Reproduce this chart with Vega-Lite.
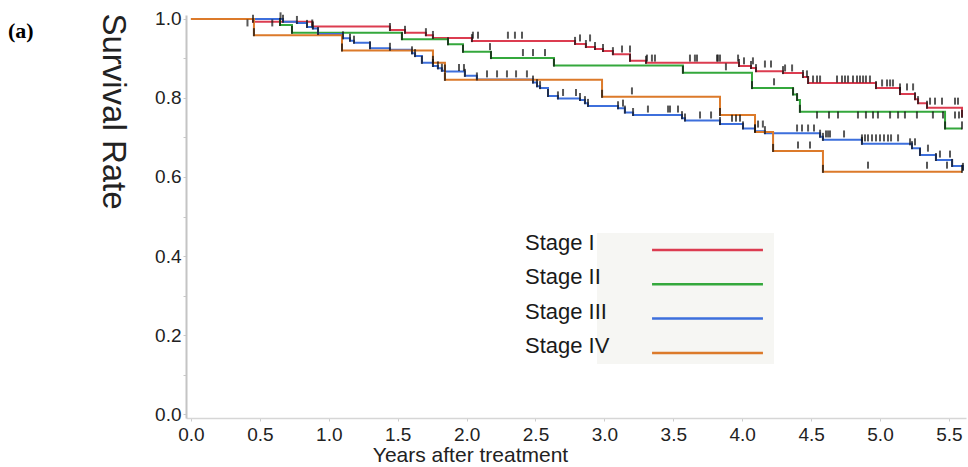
{
  "$schema": "https://vega.github.io/schema/vega-lite/v6.json",
  "width": 780,
  "height": 403,
  "autosize": {"type": "none"},
  "padding": {"left": 186, "top": 15, "right": 2, "bottom": 49},
  "background": "white",
  "title": {"text": "(a)", "anchor": "start", "frame": "group", "font": "Liberation Serif", "fontWeight": "bold", "fontSize": 22, "color": "#000000", "dx": -178, "dy": 50, "offset": 0, "baseline": "alphabetic"},
  "config": {"view": {"stroke": null}, "font": "Liberation Sans"},
  "datasets": {
    "curves": [
      {"stage": "Stage I", "t": 0, "s": 1},
      {"stage": "Stage I", "t": 0.45, "s": 0.993},
      {"stage": "Stage I", "t": 0.88, "s": 0.981},
      {"stage": "Stage I", "t": 1.444, "s": 0.972},
      {"stage": "Stage I", "t": 1.553, "s": 0.965},
      {"stage": "Stage I", "t": 1.705, "s": 0.959},
      {"stage": "Stage I", "t": 1.756, "s": 0.952},
      {"stage": "Stage I", "t": 2.039, "s": 0.944},
      {"stage": "Stage I", "t": 2.787, "s": 0.937},
      {"stage": "Stage I", "t": 2.866, "s": 0.929},
      {"stage": "Stage I", "t": 2.932, "s": 0.924},
      {"stage": "Stage I", "t": 2.99, "s": 0.919},
      {"stage": "Stage I", "t": 3.062, "s": 0.911},
      {"stage": "Stage I", "t": 3.186, "s": 0.894},
      {"stage": "Stage I", "t": 3.302, "s": 0.889},
      {"stage": "Stage I", "t": 3.977, "s": 0.881},
      {"stage": "Stage I", "t": 4.064, "s": 0.876},
      {"stage": "Stage I", "t": 4.1, "s": 0.868},
      {"stage": "Stage I", "t": 4.296, "s": 0.863},
      {"stage": "Stage I", "t": 4.441, "s": 0.853},
      {"stage": "Stage I", "t": 4.478, "s": 0.838},
      {"stage": "Stage I", "t": 4.971, "s": 0.825},
      {"stage": "Stage I", "t": 5.145, "s": 0.81},
      {"stage": "Stage I", "t": 5.254, "s": 0.797},
      {"stage": "Stage I", "t": 5.276, "s": 0.787},
      {"stage": "Stage I", "t": 5.341, "s": 0.775},
      {"stage": "Stage I", "t": 5.595, "s": 0.752},
      {"stage": "Stage II", "t": 0, "s": 1},
      {"stage": "Stage II", "t": 0.646, "s": 0.985},
      {"stage": "Stage II", "t": 0.733, "s": 0.965},
      {"stage": "Stage II", "t": 1.531, "s": 0.949},
      {"stage": "Stage II", "t": 1.865, "s": 0.936},
      {"stage": "Stage II", "t": 1.974, "s": 0.917},
      {"stage": "Stage II", "t": 2.177, "s": 0.901},
      {"stage": "Stage II", "t": 2.634, "s": 0.882},
      {"stage": "Stage II", "t": 3.57, "s": 0.864},
      {"stage": "Stage II", "t": 4.071, "s": 0.825},
      {"stage": "Stage II", "t": 4.369, "s": 0.809},
      {"stage": "Stage II", "t": 4.398, "s": 0.795},
      {"stage": "Stage II", "t": 4.419, "s": 0.765},
      {"stage": "Stage II", "t": 5.472, "s": 0.723},
      {"stage": "Stage II", "t": 5.595, "s": 0.723},
      {"stage": "Stage III", "t": 0, "s": 1},
      {"stage": "Stage III", "t": 0.668, "s": 0.993},
      {"stage": "Stage III", "t": 0.769, "s": 0.99},
      {"stage": "Stage III", "t": 0.842, "s": 0.98},
      {"stage": "Stage III", "t": 0.885, "s": 0.976},
      {"stage": "Stage III", "t": 0.922, "s": 0.962},
      {"stage": "Stage III", "t": 1.103, "s": 0.951},
      {"stage": "Stage III", "t": 1.154, "s": 0.945},
      {"stage": "Stage III", "t": 1.183, "s": 0.94},
      {"stage": "Stage III", "t": 1.299, "s": 0.926},
      {"stage": "Stage III", "t": 1.444, "s": 0.922},
      {"stage": "Stage III", "t": 1.604, "s": 0.913},
      {"stage": "Stage III", "t": 1.626, "s": 0.906},
      {"stage": "Stage III", "t": 1.676, "s": 0.889},
      {"stage": "Stage III", "t": 1.756, "s": 0.881},
      {"stage": "Stage III", "t": 1.792, "s": 0.875},
      {"stage": "Stage III", "t": 1.821, "s": 0.869},
      {"stage": "Stage III", "t": 1.843, "s": 0.867},
      {"stage": "Stage III", "t": 1.988, "s": 0.856},
      {"stage": "Stage III", "t": 2.075, "s": 0.847},
      {"stage": "Stage III", "t": 2.482, "s": 0.839},
      {"stage": "Stage III", "t": 2.511, "s": 0.83},
      {"stage": "Stage III", "t": 2.533, "s": 0.825},
      {"stage": "Stage III", "t": 2.591, "s": 0.805},
      {"stage": "Stage III", "t": 2.663, "s": 0.799},
      {"stage": "Stage III", "t": 2.823, "s": 0.795},
      {"stage": "Stage III", "t": 2.859, "s": 0.787},
      {"stage": "Stage III", "t": 2.881, "s": 0.78},
      {"stage": "Stage III", "t": 3.099, "s": 0.774},
      {"stage": "Stage III", "t": 3.149, "s": 0.763},
      {"stage": "Stage III", "t": 3.208, "s": 0.757},
      {"stage": "Stage III", "t": 3.563, "s": 0.749},
      {"stage": "Stage III", "t": 3.585, "s": 0.743},
      {"stage": "Stage III", "t": 3.839, "s": 0.734},
      {"stage": "Stage III", "t": 4.006, "s": 0.723},
      {"stage": "Stage III", "t": 4.093, "s": 0.716},
      {"stage": "Stage III", "t": 4.165, "s": 0.711},
      {"stage": "Stage III", "t": 4.565, "s": 0.702},
      {"stage": "Stage III", "t": 4.586, "s": 0.694},
      {"stage": "Stage III", "t": 4.869, "s": 0.684},
      {"stage": "Stage III", "t": 5.232, "s": 0.673},
      {"stage": "Stage III", "t": 5.29, "s": 0.656},
      {"stage": "Stage III", "t": 5.406, "s": 0.643},
      {"stage": "Stage III", "t": 5.523, "s": 0.628},
      {"stage": "Stage III", "t": 5.602, "s": 0.618},
      {"stage": "Stage IV", "t": 0, "s": 1},
      {"stage": "Stage IV", "t": 0.457, "s": 0.959},
      {"stage": "Stage IV", "t": 1.096, "s": 0.92},
      {"stage": "Stage IV", "t": 1.756, "s": 0.889},
      {"stage": "Stage IV", "t": 1.843, "s": 0.846},
      {"stage": "Stage IV", "t": 2.983, "s": 0.803},
      {"stage": "Stage IV", "t": 3.839, "s": 0.757},
      {"stage": "Stage IV", "t": 4.093, "s": 0.714},
      {"stage": "Stage IV", "t": 4.224, "s": 0.666},
      {"stage": "Stage IV", "t": 4.586, "s": 0.613},
      {"stage": "Stage IV", "t": 5.595, "s": 0.613}
    ],
    "censored": [
      {"stage": "Stage I", "t": 0.41, "s": 0.99},
      {"stage": "Stage I", "t": 0.59, "s": 0.99},
      {"stage": "Stage II", "t": 0.65, "s": 1.008},
      {"stage": "Stage I", "t": 2.046, "s": 0.959},
      {"stage": "Stage I", "t": 2.083, "s": 0.959},
      {"stage": "Stage I", "t": 2.3, "s": 0.959},
      {"stage": "Stage I", "t": 2.351, "s": 0.959},
      {"stage": "Stage I", "t": 2.402, "s": 0.959},
      {"stage": "Stage I", "t": 2.823, "s": 0.952},
      {"stage": "Stage I", "t": 2.896, "s": 0.952},
      {"stage": "Stage I", "t": 3.128, "s": 0.924},
      {"stage": "Stage I", "t": 3.186, "s": 0.924},
      {"stage": "Stage I", "t": 3.309, "s": 0.901},
      {"stage": "Stage I", "t": 3.345, "s": 0.901},
      {"stage": "Stage I", "t": 3.367, "s": 0.901},
      {"stage": "Stage I", "t": 3.621, "s": 0.901},
      {"stage": "Stage I", "t": 3.657, "s": 0.901},
      {"stage": "Stage I", "t": 3.672, "s": 0.901},
      {"stage": "Stage I", "t": 3.817, "s": 0.901},
      {"stage": "Stage I", "t": 3.824, "s": 0.901},
      {"stage": "Stage I", "t": 3.839, "s": 0.901},
      {"stage": "Stage I", "t": 3.97, "s": 0.901},
      {"stage": "Stage I", "t": 4.013, "s": 0.894},
      {"stage": "Stage I", "t": 4.078, "s": 0.894},
      {"stage": "Stage I", "t": 4.165, "s": 0.886},
      {"stage": "Stage I", "t": 4.209, "s": 0.886},
      {"stage": "Stage I", "t": 4.311, "s": 0.876},
      {"stage": "Stage I", "t": 4.362, "s": 0.876},
      {"stage": "Stage I", "t": 4.47, "s": 0.861},
      {"stage": "Stage I", "t": 4.514, "s": 0.848},
      {"stage": "Stage I", "t": 4.543, "s": 0.848},
      {"stage": "Stage I", "t": 4.565, "s": 0.848},
      {"stage": "Stage I", "t": 4.688, "s": 0.848},
      {"stage": "Stage I", "t": 4.724, "s": 0.848},
      {"stage": "Stage I", "t": 4.746, "s": 0.848},
      {"stage": "Stage I", "t": 4.768, "s": 0.848},
      {"stage": "Stage I", "t": 4.804, "s": 0.848},
      {"stage": "Stage I", "t": 4.833, "s": 0.848},
      {"stage": "Stage I", "t": 4.855, "s": 0.848},
      {"stage": "Stage I", "t": 4.877, "s": 0.848},
      {"stage": "Stage I", "t": 4.898, "s": 0.848},
      {"stage": "Stage I", "t": 4.927, "s": 0.848},
      {"stage": "Stage I", "t": 5.015, "s": 0.838},
      {"stage": "Stage I", "t": 5.051, "s": 0.838},
      {"stage": "Stage I", "t": 5.073, "s": 0.838},
      {"stage": "Stage I", "t": 5.094, "s": 0.838},
      {"stage": "Stage I", "t": 5.145, "s": 0.828},
      {"stage": "Stage I", "t": 5.196, "s": 0.828},
      {"stage": "Stage I", "t": 5.24, "s": 0.828},
      {"stage": "Stage I", "t": 5.363, "s": 0.792},
      {"stage": "Stage I", "t": 5.399, "s": 0.792},
      {"stage": "Stage I", "t": 5.45, "s": 0.792},
      {"stage": "Stage I", "t": 5.544, "s": 0.792},
      {"stage": "Stage I", "t": 5.566, "s": 0.792},
      {"stage": "Stage II", "t": 2.17, "s": 0.93},
      {"stage": "Stage II", "t": 2.409, "s": 0.915},
      {"stage": "Stage II", "t": 2.482, "s": 0.915},
      {"stage": "Stage II", "t": 2.569, "s": 0.915},
      {"stage": "Stage II", "t": 3.882, "s": 0.879},
      {"stage": "Stage II", "t": 4.231, "s": 0.841},
      {"stage": "Stage II", "t": 4.543, "s": 0.757},
      {"stage": "Stage II", "t": 4.63, "s": 0.757},
      {"stage": "Stage II", "t": 4.695, "s": 0.757},
      {"stage": "Stage II", "t": 4.84, "s": 0.757},
      {"stage": "Stage II", "t": 4.898, "s": 0.757},
      {"stage": "Stage II", "t": 4.949, "s": 0.757},
      {"stage": "Stage II", "t": 4.985, "s": 0.757},
      {"stage": "Stage II", "t": 5.073, "s": 0.757},
      {"stage": "Stage II", "t": 5.131, "s": 0.757},
      {"stage": "Stage II", "t": 5.181, "s": 0.757},
      {"stage": "Stage II", "t": 5.268, "s": 0.757},
      {"stage": "Stage II", "t": 5.384, "s": 0.757},
      {"stage": "Stage II", "t": 5.457, "s": 0.757},
      {"stage": "Stage II", "t": 5.544, "s": 0.757},
      {"stage": "Stage II", "t": 5.573, "s": 0.757},
      {"stage": "Stage III", "t": 1.945, "s": 0.877},
      {"stage": "Stage III", "t": 1.981, "s": 0.877},
      {"stage": "Stage III", "t": 2.148, "s": 0.861},
      {"stage": "Stage III", "t": 2.221, "s": 0.861},
      {"stage": "Stage III", "t": 2.293, "s": 0.861},
      {"stage": "Stage III", "t": 2.359, "s": 0.861},
      {"stage": "Stage III", "t": 2.438, "s": 0.861},
      {"stage": "Stage III", "t": 2.7, "s": 0.814},
      {"stage": "Stage III", "t": 2.794, "s": 0.814},
      {"stage": "Stage III", "t": 3.135, "s": 0.787},
      {"stage": "Stage III", "t": 3.316, "s": 0.772},
      {"stage": "Stage III", "t": 3.462, "s": 0.772},
      {"stage": "Stage III", "t": 3.476, "s": 0.772},
      {"stage": "Stage III", "t": 3.534, "s": 0.772},
      {"stage": "Stage III", "t": 3.694, "s": 0.757},
      {"stage": "Stage III", "t": 3.774, "s": 0.757},
      {"stage": "Stage III", "t": 4.115, "s": 0.734},
      {"stage": "Stage III", "t": 4.15, "s": 0.734},
      {"stage": "Stage III", "t": 4.398, "s": 0.724},
      {"stage": "Stage III", "t": 4.434, "s": 0.724},
      {"stage": "Stage III", "t": 4.478, "s": 0.724},
      {"stage": "Stage III", "t": 4.521, "s": 0.724},
      {"stage": "Stage III", "t": 4.608, "s": 0.709},
      {"stage": "Stage III", "t": 4.623, "s": 0.709},
      {"stage": "Stage III", "t": 4.637, "s": 0.709},
      {"stage": "Stage III", "t": 4.739, "s": 0.709},
      {"stage": "Stage III", "t": 4.869, "s": 0.699},
      {"stage": "Stage III", "t": 4.891, "s": 0.699},
      {"stage": "Stage III", "t": 4.913, "s": 0.699},
      {"stage": "Stage III", "t": 4.942, "s": 0.699},
      {"stage": "Stage III", "t": 4.971, "s": 0.699},
      {"stage": "Stage III", "t": 5.0, "s": 0.699},
      {"stage": "Stage III", "t": 5.029, "s": 0.699},
      {"stage": "Stage III", "t": 5.058, "s": 0.699},
      {"stage": "Stage III", "t": 5.08, "s": 0.699},
      {"stage": "Stage III", "t": 5.131, "s": 0.699},
      {"stage": "Stage III", "t": 5.218, "s": 0.689},
      {"stage": "Stage III", "t": 5.254, "s": 0.689},
      {"stage": "Stage III", "t": 5.348, "s": 0.673},
      {"stage": "Stage III", "t": 5.435, "s": 0.658},
      {"stage": "Stage III", "t": 5.508, "s": 0.658},
      {"stage": "Stage IV", "t": 3.2, "s": 0.818},
      {"stage": "Stage IV", "t": 3.926, "s": 0.749},
      {"stage": "Stage IV", "t": 3.955, "s": 0.749},
      {"stage": "Stage IV", "t": 3.984, "s": 0.749},
      {"stage": "Stage IV", "t": 4.405, "s": 0.681},
      {"stage": "Stage IV", "t": 4.492, "s": 0.681},
      {"stage": "Stage IV", "t": 4.913, "s": 0.63},
      {"stage": "Stage IV", "t": 5.341, "s": 0.63},
      {"stage": "Stage IV", "t": 5.486, "s": 0.63}
    ]
  },
  "layer": [
    {
      "data": {"name": "curves"},
      "mark": {"type": "line", "interpolate": "step-after", "strokeWidth": 2},
      "encoding": {
        "x": {
          "field": "t", "type": "quantitative",
          "scale": {"domain": [-0.036, 5.624], "nice": false, "zero": false},
          "axis": {
            "values": [0, 0.5, 1, 1.5, 2, 2.5, 3, 3.5, 4, 4.5, 5, 5.5],
            "format": ".1f", "grid": false,
            "labelFontSize": 19, "labelColor": "#222222", "labelFlush": false, "labelOverlap": false, "labelPadding": 4,
            "domainColor": "#d6d6d6", "domainWidth": 1.5, "tickColor": "#cccccc", "tickSize": 3,
            "title": "Years after treatment", "titleFontSize": 21, "titleFontWeight": "normal", "titleColor": "#222222",
            "titleX": 284, "titleY": 43, "titleAlign": "center", "titleBaseline": "alphabetic"
          }
        },
        "y": {
          "field": "s", "type": "quantitative",
          "scale": {"domain": [-0.0101, 1.0101], "nice": false, "zero": false},
          "axis": {
            "values": [0, 0.1, 0.2, 0.3, 0.4, 0.5, 0.6, 0.7, 0.8, 0.9, 1.0],
            "labelExpr": "round(datum.value * 10) % 2 == 0 ? format(datum.value, '.1f') : ''",
            "grid": false,
            "labelFontSize": 19, "labelColor": "#222222", "labelOverlap": false, "labelPadding": 2,
            "domainColor": "#c4c4c4", "domainWidth": 2, "tickColor": "#c8c8c8", "tickSize": 3,
            "title": "Survival Rate", "titleFontSize": 33, "titleFontWeight": "normal", "titleColor": "#222222",
            "titleAngle": 90, "titleX": -74, "titleY": 96, "titleAlign": "center", "titleBaseline": "middle"
          }
        },
        "color": {
          "field": "stage", "type": "nominal",
          "scale": {"domain": ["Stage I", "Stage II", "Stage III", "Stage IV"], "range": ["#dc3c50", "#34a83c", "#3d6fdc", "#dc7a2a"]},
          "legend": {
            "orient": "none", "legendX": 411, "legendY": 218, "title": null,
            "symbolType": "M-10,0H10", "symbolSize": 123, "symbolStrokeWidth": 2.5,
            "labelFontSize": 22, "labelColor": "#1a1a1a", "labelOffset": -193.5, "symbolOffset": 93.5,
            "labelBaseline": "alphabetic",
            "rowPadding": 11.3, "fillColor": "#f6f6f3", "padding": 6, "labelLimit": 0
          }
        }
      }
    },
    {
      "data": {"name": "curves"},
      "transform": [{"filter": "datum.t > 0"}],
      "mark": {"type": "tick", "orient": "vertical", "color": "#111111", "size": 8, "thickness": 2, "yOffset": -3},
      "encoding": {
        "x": {"field": "t", "type": "quantitative"},
        "y": {"field": "s", "type": "quantitative"}
      }
    },
    {
      "data": {"name": "censored"},
      "mark": {"type": "tick", "orient": "vertical", "color": "#111111", "size": 7, "thickness": 2},
      "encoding": {
        "x": {"field": "t", "type": "quantitative"},
        "y": {"field": "s", "type": "quantitative"}
      }
    }
  ]
}
